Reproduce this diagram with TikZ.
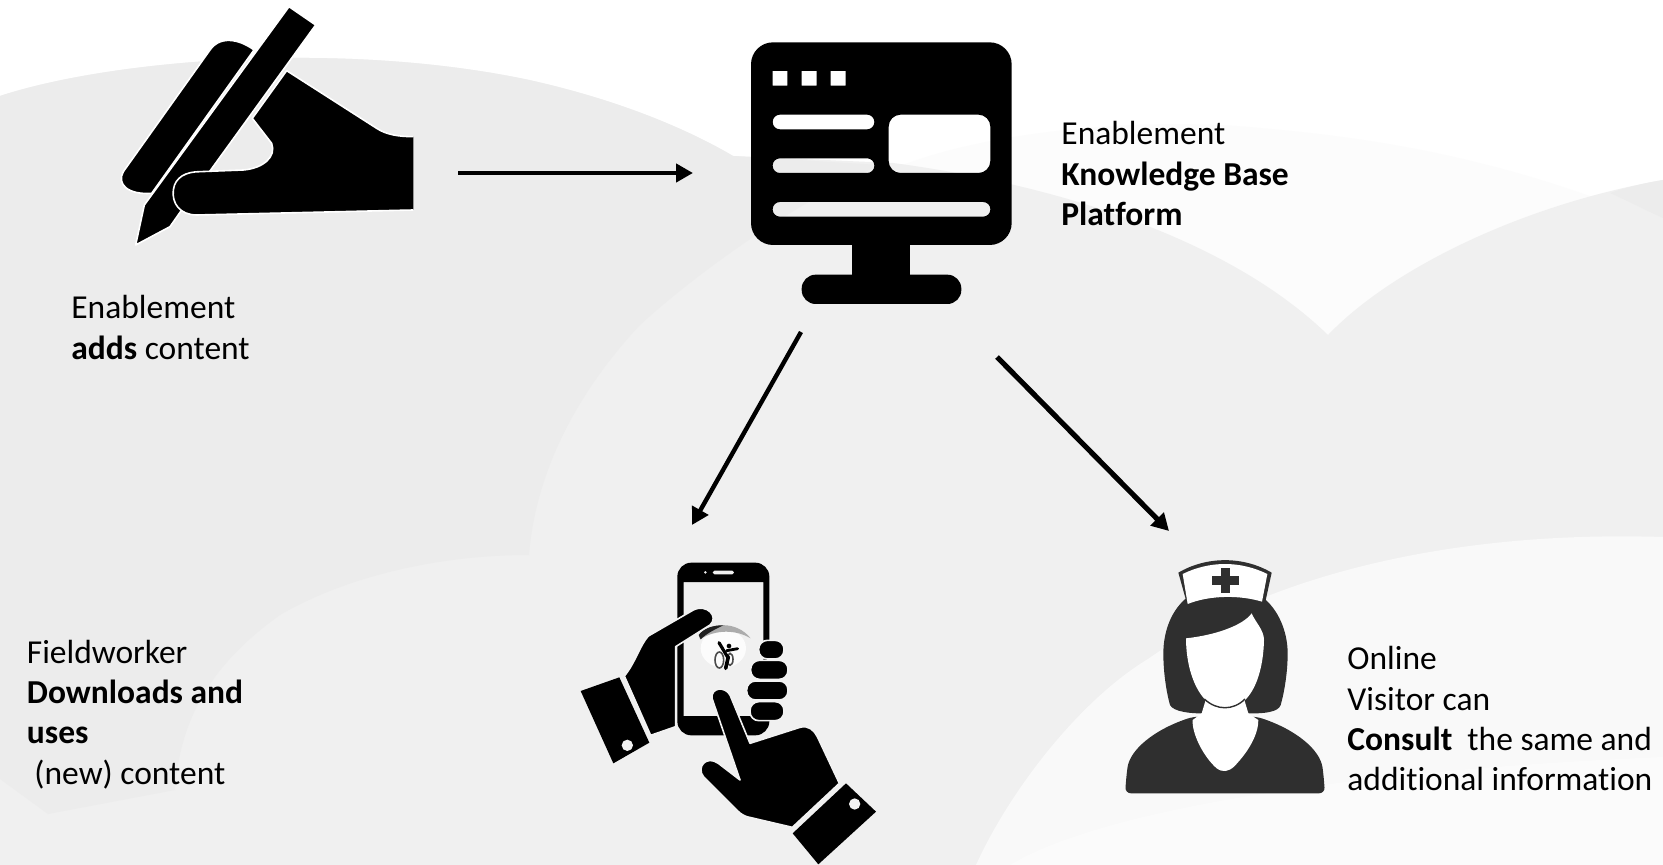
\documentclass[tikz,border=0pt]{standalone}
\usepackage{fontspec}
\setmainfont{Carlito}[Ligatures=NoCommon]
\usetikzlibrary{arrows.meta}
\definecolor{bgA}{HTML}{ECECEC}
\definecolor{bgB}{HTML}{F0F0F0}
\definecolor{bgC}{HTML}{F2F2F2}
\definecolor{bgF}{HTML}{FCFCFC}
\definecolor{bgE}{HTML}{F9F9F9}
\definecolor{bgG}{HTML}{FBFBFB}
\definecolor{nurse}{HTML}{2F2F2F}
\tikzset{
  label text/.style={anchor=north west,inner sep=0pt,align=left,font=\fontsize{16.75}{20.2}\selectfont,text=black},
  flow/.style={line width=2.4pt,-{Triangle[length=8.5pt,width=9pt]}},
  gap/.style={fill=black,draw=white,line width=0.8pt,line join=round},
  lightgap/.style={fill=black,draw=bgC,line width=0.8pt,line join=round},
  icon3/.style={scale=0.33333},
}
\begin{document}
\begin{tikzpicture}[x=0.5pt,y=-0.5pt]
\useasboundingbox (0,0) rectangle (1663,865);
\fill[white] (0,0) rectangle (1663,865);
% pale layer behind the central V
\fill[bgF] (880,175) .. controls (960,135) and (1130,115) .. (1260,128) .. controls (1400,140) and (1520,165) .. (1663,224) -- (1663,400) -- (1100,400) -- cycle;
% central base
\fill[bgB] (0,96) .. controls (110,60) and (340,40) .. (529,80) .. controls (610,98) and (680,125) .. (733,156)
  -- (893,163) .. controls (1060,185) and (1230,240) .. (1328,335)
  .. controls (1390,270) and (1520,205) .. (1663,180) -- (1663,865) -- (0,865) -- cycle;
% wedge at the right edge
\fill[bgA] (1610,193) .. controls (1628,187) and (1645,183) .. (1663,180) -- (1663,218) .. controls (1645,210) and (1628,201) .. (1610,193) -- cycle;
% left dark cloud
\fill[bgA] (0,96) .. controls (110,60) and (340,40) .. (529,80) .. controls (610,98) and (680,125) .. (733,156) -- (880,165)
  .. controls (800,200) and (700,270) .. (640,325) .. controls (570,400) and (535,480) .. (529,555)
  .. controls (430,555) and (340,580) .. (280,615) .. controls (210,665) and (180,720) .. (175,790)
  -- (48,814) -- (0,779) -- cycle;
% lower right clouds
\fill[bgE] (976,865) .. controls (1010,790) and (1080,700) .. (1148,659) .. controls (1260,580) and (1440,530) .. (1663,537) -- (1663,865) -- cycle;
\fill[bgG] (1010,865) .. controls (1100,810) and (1350,770) .. (1663,757) -- (1663,865) -- cycle;

% writing hand
\begin{scope}[shift={(90,0)},icon3]
  \path[gap] (492,150) .. controls (460,125) and (395,100) .. (360,150) -- (100,515) .. controls (80,550) and (110,585) .. (185,580) -- cycle;
  \path[gap] (597,20) -- (677,75) -- (268,640) -- (240,680) -- (137,735) -- (163,615) -- cycle;
  \fill[black] (590,212) -- (860,385) .. controls (890,405) and (930,410) .. (970,410) -- (970,630) -- (320,645) .. controls (270,645) and (245,610) .. (250,570) .. controls (255,530) and (290,515) .. (330,515) -- (460,510) .. controls (520,505) and (560,470) .. (545,430) -- (487,355) -- cycle;
  \draw[white,line width=0.8pt,line join=round] (970,410) .. controls (930,410) and (890,405) .. (860,385) -- (590,212) -- (487,355) -- (545,430) .. controls (560,470) and (520,505) .. (460,510) -- (330,515) .. controls (290,515) and (255,530) .. (250,570) .. controls (245,610) and (270,645) .. (320,645) -- (970,630);
\end{scope}

% monitor
\begin{scope}[shift={(730,30)},icon3]
  \fill[black,even odd rule]
    (128,123) rectangle (172,167) (215,123) rectangle (260,167) (302,123) rectangle (347,167)
    [rounded corners=3.6pt] (128,254) rectangle (433,298) (128,385) rectangle (433,429) (128,516) rectangle (781,560)
    [rounded corners=6pt] (476,254) rectangle (781,429)
    [rounded corners=11pt] (63,37) rectangle (845,645);
  \fill[black] (367,640) rectangle (541,740);
  \fill[black,rounded corners=7pt] (215,734) rectangle (694,822);
\end{scope}

% phone
\begin{scope}[shift={(560,550)},icon3]
  \fill[black,even odd rule]
    (371,96) rectangle (610,498)
    (436,67) circle[radius=5]
    [rounded corners=0.9pt] (457,62) rectangle (523,73)
    [rounded corners=7pt] (352,38) rectangle (628,556);
  % app logo
  \fill[bgF] (490,295) ellipse[x radius=68,y radius=58];
  \fill[gray!65] (418,258) .. controls (450,215) and (530,212) .. (572,265) .. controls (530,240) and (470,236) .. (420,268) -- cycle;
  \fill[gray!25!black] (416,255) .. controls (430,235) and (460,225) .. (490,226) .. controls (465,238) and (440,250) .. (422,268) -- cycle;
  \draw[gray!60!black,line width=0.8pt] (478,330) ellipse[x radius=13,y radius=24];
  \draw[gray!60!black,line width=0.8pt] (510,328) ellipse[x radius=9,y radius=18];
  \fill[black] (507,288) circle[radius=7];
  \draw[black,line width=1.6pt,line cap=round] (477,278) -- (505,325);
  \draw[black,line width=1.4pt,line cap=round] (500,302) -- (533,296);
  \draw[black,line width=1.8pt,line cap=round] (505,320) -- (497,355);
  % left hand
  \path[lightgap] (193,378) .. controls (225,340) and (240,285) .. (265,258) -- (400,180) .. controls (440,160) and (478,200) .. (450,225) -- (347,290) -- (347,530) -- (272,556) -- cycle;
  \fill[black] (62,423) -- (178,382) -- (268,578) -- (160,640) -- cycle;
  \fill[bgC] (202,586) circle[radius=17];
  % holding fingers
  \path[lightgap,rounded corners=4.4pt] (570,455) rectangle (672,512);
  \path[lightgap,rounded corners=4.4pt] (560,393) rectangle (684,450);
  \path[lightgap,rounded corners=4.4pt] (572,331) rectangle (684,388);
  \path[lightgap,rounded corners=4.4pt] (596,271) rectangle (672,327);
  % right hand
  \path[lightgap] (456,445) .. controls (452,412) and (495,408) .. (510,435) -- (570,580) -- (720,532) .. controls (745,525) and (762,540) .. (772,560) -- (838,700) -- (697,832) -- (560,800) .. controls (545,795) and (535,785) .. (525,775) -- (430,680) .. controls (408,650) and (440,615) .. (475,640) -- (540,690) -- cycle;
  \fill[black] (858,700) -- (948,785) -- (775,943) -- (698,850) -- cycle;
  \fill[bgC] (884,762) circle[radius=17];
\end{scope}

% nurse
\begin{scope}[shift={(1110,550)},icon3]
  \fill[nurse] (228,145) .. controls (175,190) and (160,260) .. (160,310) .. controls (160,370) and (170,430) .. (180,465) .. controls (190,485) and (240,492) .. (300,490) -- (400,490) .. controls (470,492) and (505,485) .. (512,465) .. controls (522,430) and (533,370) .. (533,310) .. controls (533,260) and (515,190) .. (462,145) -- cycle;
  \fill[nurse,rounded corners=3pt] (45,730) -- (50,670) .. controls (60,600) and (130,540) .. (250,500) -- (440,500) .. controls (560,540) and (630,600) .. (640,670) -- (645,730) -- cycle;
  \fill[white] (290,440) -- (275,490) -- (248,510) .. controls (245,550) and (280,620) .. (320,655) .. controls (338,668) and (355,665) .. (372,650) .. controls (420,600) and (445,550) .. (445,510) -- (415,490) -- (400,440) -- cycle;
  \fill[white] (228,265) .. controls (320,255) and (400,225) .. (425,190) .. controls (435,215) and (462,240) .. (462,270) .. controls (460,350) and (440,420) .. (400,455) .. controls (370,480) and (325,480) .. (295,458) .. controls (250,420) and (228,340) .. (228,265) -- cycle;
  \draw[nurse,line width=0.7pt] (283,447) .. controls (320,482) and (370,482) .. (405,447);
  \fill[nurse] (205,68) .. controls (290,18) and (400,18) .. (485,68) -- (465,160) -- (232,165) -- cycle;
  \fill[white] (218,72) .. controls (300,32) and (390,32) .. (472,72) -- (456,155) .. controls (390,135) and (300,135) .. (233,162) -- cycle;
  \fill[nurse] (332,55) rectangle (360,128);
  \fill[nurse] (305,78) rectangle (387,105);
\end{scope}

% connectors
\coordinate (c1s) at (458,173);
\coordinate (c1e) at (693,173);
\coordinate (c2s) at (801,332);
\coordinate (c2e) at (692,525);
\coordinate (c3s) at (997,357);
\coordinate (c3e) at (1169,531);
\draw[flow] (c1s) -- (c1e);
\draw[flow,line width=2.2pt] (c2s) -- (c2e);
\draw[flow,line width=2.6pt] (c3s) -- (c3e);

% labels
\node[label text] (adds) at (71,295) {Enablement\\\textbf{adds} content};
\node[label text] (kb) at (1061,121) {Enablement\\\textbf{Knowledge Base}\\\textbf{Platform}};
\node[label text] (field) at (26.5,639.5) {Fieldworker\\\textbf{Downloads and}\\\textbf{uses}\\~(new) content};
\node[label text] (visitor) at (1347,646) {Online\\Visitor can\\\textbf{Consult}~ the same and\\additional information};
\end{tikzpicture}
\end{document}
